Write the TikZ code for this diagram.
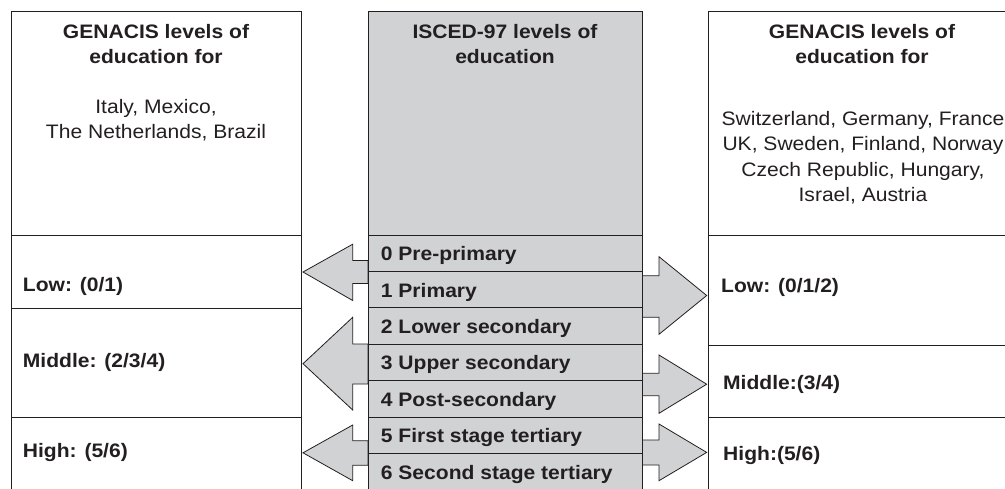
\documentclass[tikz,border=0pt]{standalone}
\usepackage{fontspec}
\setmainfont{Liberation Sans}[FakeStretch=1.08]
\definecolor{ink}{HTML}{231F20}
\definecolor{panel}{HTML}{D1D2D4}
\tikzset{
  cell/.style={draw=ink, line width=1pt, inner sep=0pt, outer sep=0pt, anchor=north west},
  shadecell/.style={cell, fill=panel},
  blockarrow/.style={draw=ink, fill=panel, line width=0.8pt, line join=miter},
  title/.style={font=\fontsize{19.5}{25.5}\selectfont\bfseries, text=ink, align=center, anchor=base, inner sep=0pt},
  plain/.style={font=\fontsize{19.5}{25.5}\selectfont, text=ink, align=center, anchor=base, inner sep=0pt},
  lvl/.style={font=\fontsize{19.5}{25.5}\selectfont\bfseries, text=ink, anchor=base west, inner sep=0pt},
}
\begin{document}
\begin{tikzpicture}[x=1pt,y=-1pt]
\useasboundingbox (0,0) rectangle (1005,488);
\clip (0,0) rectangle (1005,488);

% block arrows (drawn first, centre column covers their inner ends)
\draw[blockarrow] (368,260.5) -- (352.7,260.5) -- (352.7,244.2) -- (303,272) -- (352.7,300.5) -- (352.7,283.5) -- (368,283.5) -- cycle;
\draw[blockarrow] (368,344) -- (352.7,344) -- (352.7,317.3) -- (303,363.7) -- (352.7,410) -- (352.7,384) -- (368,384) -- cycle;
\draw[blockarrow] (368,440.7) -- (352.7,440.7) -- (352.7,425) -- (303,452.8) -- (352.7,480.7) -- (352.7,465.3) -- (368,465.3) -- cycle;
\draw[blockarrow] (642,275.7) -- (659,275.7) -- (659,256.7) -- (706.7,295.5) -- (659,334.3) -- (659,317.3) -- (642,317.3) -- cycle;
\draw[blockarrow] (642,373.3) -- (659,373.3) -- (659,355) -- (706.7,384.2) -- (659,413.3) -- (659,395.7) -- (642,395.7) -- cycle;
\draw[blockarrow] (642,440) -- (659,440) -- (659,424) -- (706.7,452.4) -- (659,480.7) -- (659,465) -- (642,465) -- cycle;

% left column
\node[cell, minimum width=290pt, minimum height=224pt] (Lhead) at (11,11) {};
\node[cell, minimum width=290pt, minimum height=73pt] (Llow) at (11,235) {};
\node[cell, minimum width=290pt, minimum height=109pt] (Lmid) at (11,308) {};
\node[cell, minimum width=290pt, minimum height=95pt] (Lhigh) at (11,417) {};

% right column
\node[cell, minimum width=320pt, minimum height=224pt] (Rhead) at (708,11) {};
\node[cell, minimum width=320pt, minimum height=110pt] (Rlow) at (708,235) {};
\node[cell, minimum width=320pt, minimum height=72pt] (Rmid) at (708,345) {};
\node[cell, minimum width=320pt, minimum height=95pt] (Rhigh) at (708,417) {};

% centre column
\node[shadecell, minimum width=274pt, minimum height=224pt] (Chead) at (368,11) {};
\foreach \k in {0,...,6}{
  \node[shadecell, minimum width=274pt, minimum height=36.4pt] (row\k) at (368,{235+36.4*\k}) {};
}

% titles (base anchor = baseline of the last line)
\node[title] (Ltitle) at (156,63.5) {GENACIS levels of\\education for};
\node[plain] (Lcountries) at (156,138.5) {Italy, Mexico,\\The Netherlands, Brazil};
\node[title] (Ctitle) at (505,63.5) {ISCED-97 levels of\\education};
\node[title] (Rtitle) at (862,63.5) {GENACIS levels of\\education for};
\node[plain] (Rcountries) at (863,201.5) {Switzerland, Germany, France\\UK, Sweden, Finland, Norway\\Czech Republic, Hungary,\\Israel, Austria};

% ISCED rows
\node[lvl] (t0) at (380.7,260.6) {0 Pre-primary};
\node[lvl] (t1) at (380.7,297.0) {1 Primary};
\node[lvl] (t2) at (380.7,333.4) {2 Lower secondary};
\node[lvl] (t3) at (380.7,369.8) {3 Upper secondary};
\node[lvl] (t4) at (380.7,406.2) {4 Post-secondary};
\node[lvl] (t5) at (380.7,442.6) {5 First stage tertiary};
\node[lvl] (t6) at (380.7,479.0) {6 Second stage tertiary};

% GENACIS level labels
\node[lvl] (Llowt) at (22.7,291.7) {Low: (0/1)};
\node[lvl] (Lmidt) at (22.7,367.5) {Middle: (2/3/4)};
\node[lvl] (Lhight) at (22.7,457) {High: (5/6)};
\node[lvl] (Rlowt) at (721,292) {Low: (0/1/2)};
\node[lvl] (Rmidt) at (723,389) {Middle:(3/4)};
\node[lvl] (Rhight) at (723,460) {High:(5/6)};
\end{tikzpicture}
\end{document}
